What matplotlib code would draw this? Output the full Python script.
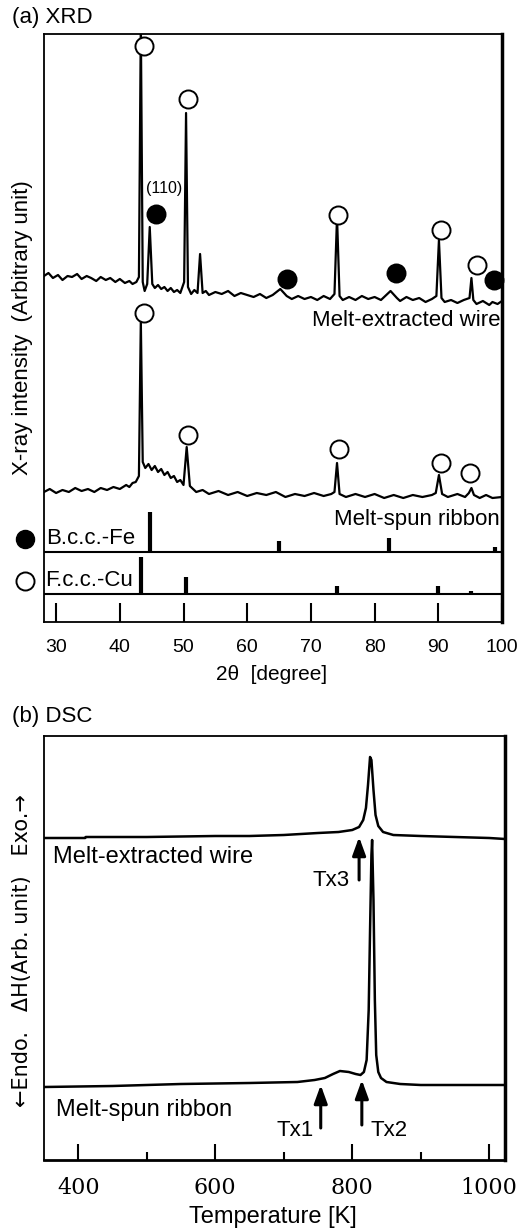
import matplotlib
matplotlib.use('Agg')
import matplotlib.pyplot as plt
from matplotlib.ticker import MultipleLocator

plt.rcParams['font.family'] = ['Liberation Sans', 'DejaVu Sans']

# ---- XRD data (2theta in degree, intensity in arbitrary units) ----
wire_tt = [28.1, 28.8, 29.5, 30.3, 31, 31.8, 32.5, 33.3, 34, 34.8, 35.5, 36.3, 37, 37.8, 38.5,
           39.3, 40, 40.8, 41.5, 42.0, 42.6, 43.0, 43.3, 43.6, 43.9,
           44.3, 44.7, 45.1, 45.5, 46.0, 46.5, 47.0, 47.5, 48.0, 48.5, 49.0, 49.5, 50.1, 50.4,
           50.7, 51.2, 51.7, 52.2, 52.6, 53.0, 53.5, 54, 55, 56, 57, 58, 59, 60, 61, 62, 63, 64,
           65.2, 66.2, 67, 68, 69, 70, 71, 72, 73, 73.7, 74.1, 74.5, 75, 76, 77, 78, 79, 80, 81,
           82.5, 83.5, 84, 85, 86, 87, 88, 89, 89.7, 90.1, 90.5, 91, 92, 93, 94, 94.9, 95.2, 95.5,
           96, 97, 98, 98.5, 99.3, 100]
wire_int = [346, 349, 344, 347, 342, 346, 345, 348, 343, 346, 344, 341, 345, 342, 344,
            340, 343, 339, 341, 338, 340, 345, 600, 340, 331,
            338, 395, 338, 334, 337, 333, 335, 331, 334, 330, 332, 329, 340, 509,
            335, 328, 332, 329, 368, 329, 331, 327, 330, 328, 331, 326, 329, 327, 325, 328, 324, 327,
            333, 326, 323, 326, 323, 325, 322, 326, 323, 328, 405, 326, 322, 325, 322, 326, 323, 325, 322,
            331, 324, 321, 325, 322, 324, 320, 323, 326, 382, 324, 320, 322, 319, 322, 324, 344, 322,
            318, 321, 317, 320, 318, 321]

ribbon_tt = [28.1, 29, 30, 31, 32, 33, 34, 35, 36, 37, 38, 39, 40, 41, 41.5, 42.0, 42.5, 43.0, 43.3,
             43.6, 44, 44.5, 45, 45.5, 46, 46.5, 47, 47.5, 48, 48.5, 49, 49.5,
             50.0, 50.5, 51.0, 51.5, 52, 53, 54, 55.5, 57, 58.5, 60, 61.5, 63, 64.5, 66, 67.5, 69,
             70.5, 72, 73.2, 73.7, 74.1, 74.5, 75.5, 77, 78.5, 80, 81.5, 83, 84.5, 86, 87.5,
             89.0, 89.6, 90.1, 90.6, 91.5, 93, 94.2, 94.8, 95.2, 95.6, 96.5, 97.5, 98.5, 100]
ribbon_int = [130, 133, 129, 132, 130, 134, 131, 133, 130, 134, 132, 135, 133, 137, 135, 139, 140, 146, 302,
              160, 154, 158, 152, 156, 150, 153, 147, 150, 144, 146, 140, 142,
              137, 175, 136, 133, 130, 132, 128, 131, 127, 130, 126, 129, 127, 130, 125, 128, 126,
              129, 126, 128, 130, 159, 128, 125, 128, 125, 128, 124, 127, 124, 127, 125,
              127, 129, 147, 128, 125, 128, 125, 129, 134, 127, 124, 127, 124, 125]

# peak markers (open = fcc-Cu, filled = bcc-Fe)
wire_cu_tt = [43.8, 50.7, 74.3, 90.4, 96.0]
wire_cu_int = [576, 523, 407, 392, 357]
wire_fe_tt = [45.7, 66.2, 83.4, 98.8]
wire_fe_int = [408, 343, 349, 342]
ribbon_cu_tt = [43.8, 50.7, 74.4, 90.5, 94.9]
ribbon_cu_int = [309, 187, 173, 159, 149]

# reference patterns (stick positions and heights)
fe_ref_tt = [44.67, 65.02, 82.33, 98.95]
fe_ref_h = [40, 11, 14, 5]
cu_ref_tt = [43.3, 50.43, 74.13, 89.93, 95.14]
cu_ref_h = [37, 17, 8, 8, 3]
fe_base = 70
cu_base = 28

# ---- DSC data (temperature in K, heat flow in arbitrary units) ----
wire_T = [350, 410, 411, 500, 600, 650, 700, 750, 780, 800, 810, 816, 820, 823, 826, 828,
          831, 834, 838, 845, 860, 900, 950, 1000, 1023]
wire_H = [322, 322, 323, 323, 324, 324, 325, 327, 328, 330, 333, 340, 352, 375, 403, 400,
          370, 345, 334, 328, 325, 324, 323, 322, 321]
ribbon_T = [350, 450, 550, 650, 720, 745, 760, 772, 782, 795, 805, 812, 817, 821, 824, 826,
            828, 829, 831, 833, 835, 838, 842, 850, 870, 900, 1023]
ribbon_H = [73, 74, 76, 77, 78, 80, 82, 86, 89, 88, 86, 85, 88, 100, 150, 230,
            305, 320, 260, 160, 105, 88, 82, 78, 76, 75, 75]

tx_labels = ['Tx3', 'Tx1', 'Tx2']
tx_T = [810, 754, 814]
tx_tip = [323, 75, 80]
tx_tail = [280, 32, 35]

W, H = 523, 1231
fig = plt.figure(figsize=(W / 100, H / 100), dpi=100)


def fx(px):
    return px / W


def fy(py):
    return 1 - py / H


# ================= (a) XRD =================
ax1 = fig.add_axes([fx(44), fy(622), fx(458), 588 / H])
ax1.plot(wire_tt, wire_int, color='k', lw=1.6)
ax1.plot(ribbon_tt, ribbon_int, color='k', lw=1.6)

mk = dict(ms=13, mew=1.4, ls='none', clip_on=False, zorder=5)
ax1.plot(wire_cu_tt, wire_cu_int, 'o', mfc='white', mec='k', **mk)
ax1.plot(ribbon_cu_tt, ribbon_cu_int, 'o', mfc='white', mec='k', **mk)
ax1.plot(wire_fe_tt, wire_fe_int, 'o', mfc='k', mec='k', **mk)
ax1.text(46.9, 433, '(110)', fontsize=11.5, ha='center', va='center')

for t, h in zip(fe_ref_tt, fe_ref_h):
    ax1.vlines(t, fe_base, fe_base + h, color='k', lw=3)
for t, h in zip(cu_ref_tt, cu_ref_h):
    ax1.vlines(t, cu_base, cu_base + h, color='k', lw=3)
ax1.axhline(fe_base, color='k', lw=1.5)
ax1.axhline(cu_base, color='k', lw=1.5)

ax1.text(99.7, 302, 'Melt-extracted wire', fontsize=16, ha='right', va='center')
ax1.text(99.7, 102, 'Melt-spun ribbon', fontsize=16, ha='right', va='center')

ax1.set_xlim(28.1, 100)
ax1.set_ylim(0, 588)
ax1.set_yticks([])
ax1.xaxis.set_major_locator(MultipleLocator(10))
ax1.tick_params(axis='x', direction='in', length=14, width=1.5, labelsize=14, pad=12)
for s in ax1.spines.values():
    s.set_linewidth(1.3)
ax1.spines['right'].set_linewidth(2.5)

# legend symbols for the reference patterns
fig.text(fx(46), fy(539), 'B.c.c.-Fe', fontsize=16, va='center')
fig.text(fx(45), fy(581), 'F.c.c.-Cu', fontsize=16, va='center')
fig.lines.append(plt.Line2D([fx(25)], [fy(539)], marker='o', ms=13, mfc='k', mec='k',
                            transform=fig.transFigure, figure=fig))
fig.lines.append(plt.Line2D([fx(25)], [fy(581)], marker='o', ms=13, mfc='white', mec='k',
                            mew=1.4, transform=fig.transFigure, figure=fig))

fig.text(fx(12), fy(18), '(a) XRD', fontsize=16, va='center')
fig.text(fx(23), fy(328), 'X-ray intensity  (Arbitrary unit)', fontsize=16,
         rotation=90, ha='center', va='center')
fig.text(fx(272), fy(675), '2θ  [degree]', fontsize=15, ha='center', va='center')

# ================= (b) DSC =================
ax2 = fig.add_axes([fx(44), fy(1160), fx(461), 424 / H])
ax2.plot(wire_T, wire_H, color='k', lw=1.8)
ax2.plot(ribbon_T, ribbon_H, color='k', lw=1.8)

for lab, t, tip, tail in zip(tx_labels, tx_T, tx_tip, tx_tail):
    ax2.annotate('', xy=(t, tip), xytext=(t, tail),
                 arrowprops=dict(arrowstyle='-|>,head_length=1.1,head_width=0.4',
                                 lw=2.2, color='k', shrinkA=0, shrinkB=0))
ax2.text(796, 279, tx_labels[0], fontsize=16, ha='right', va='center')
ax2.text(744, 30, tx_labels[1], fontsize=16, ha='right', va='center')
ax2.text(826, 30, tx_labels[2], fontsize=16, ha='left', va='center')

ax2.text(363, 303, 'Melt-extracted wire', fontsize=17, ha='left', va='center')
ax2.text(367, 50, 'Melt-spun ribbon', fontsize=17, ha='left', va='center')

ax2.set_xlim(350, 1023)
ax2.set_ylim(0, 424)
ax2.set_yticks([])
ax2.xaxis.set_major_locator(MultipleLocator(200))
ax2.xaxis.set_minor_locator(MultipleLocator(100))
ax2.tick_params(axis='x', which='major', direction='in', length=11.5, width=1.5, pad=12)
ax2.tick_params(axis='x', which='minor', direction='in', length=6, width=1.5)
for lbl in ax2.get_xticklabels():
    lbl.set_family('DejaVu Serif')
    lbl.set_fontsize(16)
for s in ax2.spines.values():
    s.set_linewidth(1.3)
ax2.spines['right'].set_linewidth(2.5)
ax2.spines['bottom'].set_linewidth(2)

fig.text(fx(12), fy(716), '(b) DSC', fontsize=16, va='center')
fig.text(fx(22), fy(951), '←Endo.   ΔH(Arb. unit)   Exo.→', fontsize=15,
         family=['DejaVu Sans'], rotation=90, ha='center', va='center')
fig.text(fx(273), fy(1217), 'Temperature [K]', fontsize=17, ha='center', va='center')

fig.savefig('out.png', dpi=100)
